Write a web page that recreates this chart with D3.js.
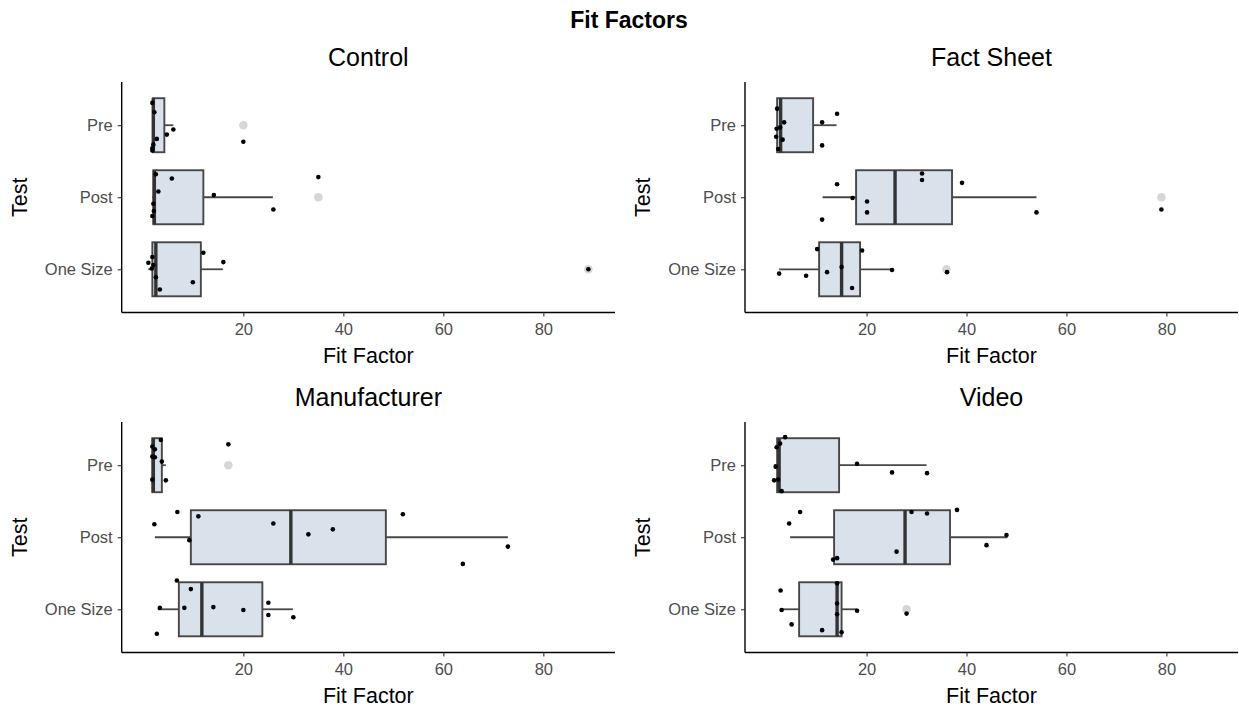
<!DOCTYPE html>
<html><head><meta charset="utf-8">
<script src="https://cdn.jsdelivr.net/npm/d3@7"></script>
<style>body{margin:0;background:#fff;}svg{display:block;font-family:"Liberation Sans",Arial,sans-serif;}</style>
</head><body><svg id="c" width="1239" height="707"></svg>
<script>
const panels = ["Control", "Fact Sheet", "Manufacturer", "Video"];
const tests = ["Pre", "Post", "One Size"];
const xTicks = [20, 40, 60, 80];

// box stats per panel, per test [Pre, Post, One Size]
const whiskLo = [[1.8, 1.8, 1.0], [2.0, 11.2, 2.5], [1.8, 2.3, 2.9], [1.5, 4.7, 3.0]];
const q1      = [[1.9, 2.0, 1.8], [2.1, 17.9, 10.5], [1.8, 9.5, 7.1], [2.1, 13.5, 6.5]];
const median  = [[2.0, 2.2, 2.5], [2.8, 25.7, 15.0], [2.0, 29.5, 11.7], [2.5, 27.7, 14.1]];
const q3      = [[4.2, 12.0, 11.5], [9.3, 37.1, 18.7], [3.7, 48.5, 23.8], [14.5, 36.7, 15.0]];
const whiskHi = [[6.0, 25.9, 15.9], [14.0, 54.0, 25.1], [4.5, 72.9, 29.9], [32.0, 48.2, 18.1]];
const outliers = [[[20.0], [35.0], [89.0]], [[], [79.0], [36.0]], [[17.0], [], []], [[], [], [28.0]]];

// raw observations (value) and their vertical jitter (fraction of a category step)
const ptValues = [
  [[1.8, 2.2, 6.0, 4.7, 2.7, 2.0, 1.8, 1.8, 20.0],
   [2.5, 5.7, 3.0, 14.1, 2.0, 2.1, 1.8, 26.0, 35.0],
   [1.8, 1.0, 2.0, 1.7, 12.0, 16.0, 2.5, 9.9, 3.3, 89.0]],
  [[2.1, 3.5, 2.7, 2.0, 1.9, 3.2, 2.3, 11.1, 14.1, 11.1],
   [14.1, 17.2, 20.1, 20.1, 11.1, 31.1, 31.1, 39.1, 54.0, 79.0],
   [10.1, 19.1, 15.0, 25.1, 12.1, 2.5, 7.9, 36.1, 17.1]],
  [[3.5, 1.8, 2.3, 1.8, 2.3, 3.7, 1.8, 4.5, 17.0],
   [6.8, 2.2, 11.0, 26.0, 9.2, 33.0, 37.9, 51.9, 72.9, 63.9],
   [6.7, 9.5, 3.3, 8.2, 14.0, 20.0, 25.0, 25.0, 30.0, 2.7]],
  [[3.7, 2.7, 2.0, 1.8, 1.5, 2.3, 3.0, 18.1, 25.1, 32.1],
   [6.7, 4.5, 29.0, 32.1, 38.1, 48.0, 44.0, 26.0, 13.3, 14.1],
   [2.8, 14.1, 14.1, 14.1, 3.0, 18.1, 5.0, 11.1, 15.0, 28.0]]
];
const ptJitter = [
  [[-0.31, -0.18, 0.06, 0.13, 0.19, 0.27, 0.32, 0.35, 0.23],
   [-0.32, -0.26, -0.08, -0.03, 0.09, 0.19, 0.26, 0.17, -0.28],
   [-0.17, -0.09, -0.06, -0.01, -0.23, -0.10, 0.11, 0.18, 0.28, 0.0]],
  [[-0.23, -0.04, 0.03, 0.05, 0.16, 0.20, 0.33, -0.04, -0.16, 0.28],
   [-0.18, 0.01, 0.06, 0.21, 0.31, -0.33, -0.24, -0.20, 0.21, 0.17],
   [-0.28, -0.26, -0.03, 0.01, 0.04, 0.06, 0.09, 0.04, 0.26]],
  [[-0.35, -0.26, -0.22, -0.12, -0.11, -0.05, 0.20, 0.21, -0.29],
   [-0.35, -0.18, -0.29, -0.19, 0.04, -0.04, -0.11, -0.32, 0.13, 0.37],
   [-0.40, -0.28, -0.02, -0.02, -0.03, 0.01, -0.09, 0.08, 0.11, 0.34]],
  [[-0.39, -0.30, -0.25, 0.02, 0.21, 0.20, 0.36, -0.02, 0.10, 0.11],
   [-0.35, -0.19, -0.35, -0.33, -0.38, -0.03, 0.11, 0.20, 0.31, 0.29],
   [-0.26, -0.36, -0.08, 0.07, 0.01, 0.02, 0.21, 0.29, 0.32, 0.06]]
];

const svg = d3.select("#c");
const panelBoxes = [
  {x0: 121.7, x1: 615, y0: 82, y1: 312.5},
  {x0: 745, x1: 1238, y0: 82, y1: 312.5},
  {x0: 121.7, x1: 615, y0: 422, y1: 652.5},
  {x0: 745, x1: 1238, y0: 422, y1: 652.5}
];
const xDomain = [-4.33, 94.33];

svg.append("text").attr("x", 629).attr("y", 28).attr("text-anchor", "middle")
  .attr("font-size", 23).attr("font-weight", "bold").attr("fill", "#000").text("Fit Factors");

panels.forEach((name, p) => {
  const b = panelBoxes[p];
  const x = d3.scaleLinear().domain(xDomain).range([b.x0, b.x1]);
  const step = (b.y1 - b.y0) / 3.2;
  const y = d3.scalePoint().domain(tests).range([b.y0 + 0.6 * step, b.y1 - 0.6 * step]);
  const g = svg.append("g");

  g.append("text").attr("x", (b.x0 + b.x1) / 2).attr("y", b.y0 - 16).attr("text-anchor", "middle")
    .attr("font-size", 25).attr("fill", "#000").text(name);

  const xAxis = g.append("g").attr("transform", `translate(0,${b.y1})`)
    .call(d3.axisBottom(x).tickValues(xTicks).tickSize(4).tickPadding(7));
  const yAxis = g.append("g").attr("transform", `translate(${b.x0},0)`)
    .call(d3.axisLeft(y).tickSize(4).tickPadding(5));
  [xAxis, yAxis].forEach(a => {
    a.select(".domain").attr("stroke", "#000").attr("stroke-width", 1.4);
    a.selectAll(".tick line").attr("stroke", "#333").attr("stroke-width", 1.1);
    a.selectAll(".tick text").attr("fill", "#4d4d4d").attr("font-size", 16.5)
      .attr("font-family", "'Liberation Sans',Arial,sans-serif");
  });
  xAxis.select(".domain").attr("d", `M${b.x0},0H${b.x1}`);
  yAxis.select(".domain").attr("d", `M0,${b.y0}V${b.y1}`);

  g.append("text").attr("x", (b.x0 + b.x1) / 2).attr("y", b.y1 + 50).attr("text-anchor", "middle")
    .attr("font-size", 21.5).attr("fill", "#000").text("Fit Factor");
  g.append("text").attr("transform", `translate(${b.x0 - 95},${(b.y0 + b.y1) / 2}) rotate(-90)`)
    .attr("text-anchor", "middle").attr("font-size", 21.5).attr("fill", "#000").text("Test");

  const bw = step * 0.75;
  tests.forEach((t, i) => {
    const cy = y(t);
    const stroke = "#474747";
    g.append("line").attr("x1", x(whiskLo[p][i])).attr("x2", x(q1[p][i])).attr("y1", cy).attr("y2", cy)
      .attr("stroke", stroke).attr("stroke-width", 1.8);
    g.append("line").attr("x1", x(q3[p][i])).attr("x2", x(whiskHi[p][i])).attr("y1", cy).attr("y2", cy)
      .attr("stroke", stroke).attr("stroke-width", 1.8);
    g.append("rect").attr("x", x(q1[p][i])).attr("y", cy - bw / 2)
      .attr("width", x(q3[p][i]) - x(q1[p][i])).attr("height", bw)
      .attr("fill", "#d9e1eb").attr("stroke", stroke).attr("stroke-width", 1.9);
    g.append("line").attr("x1", x(median[p][i])).attr("x2", x(median[p][i]))
      .attr("y1", cy - bw / 2).attr("y2", cy + bw / 2)
      .attr("stroke", "#333").attr("stroke-width", 3.4);
    outliers[p][i].forEach(v => {
      g.append("circle").attr("cx", x(v)).attr("cy", cy).attr("r", 4.3)
        .attr("fill", "#cfcfcf").attr("fill-opacity", 0.85);
    });
  });
  tests.forEach((t, i) => {
    const cy = y(t);
    ptValues[p][i].forEach((v, k) => {
      g.append("circle").attr("cx", x(v)).attr("cy", cy + ptJitter[p][i][k] * step).attr("r", 2.3)
        .attr("fill", "#000");
    });
  });
});
</script></body></html>
